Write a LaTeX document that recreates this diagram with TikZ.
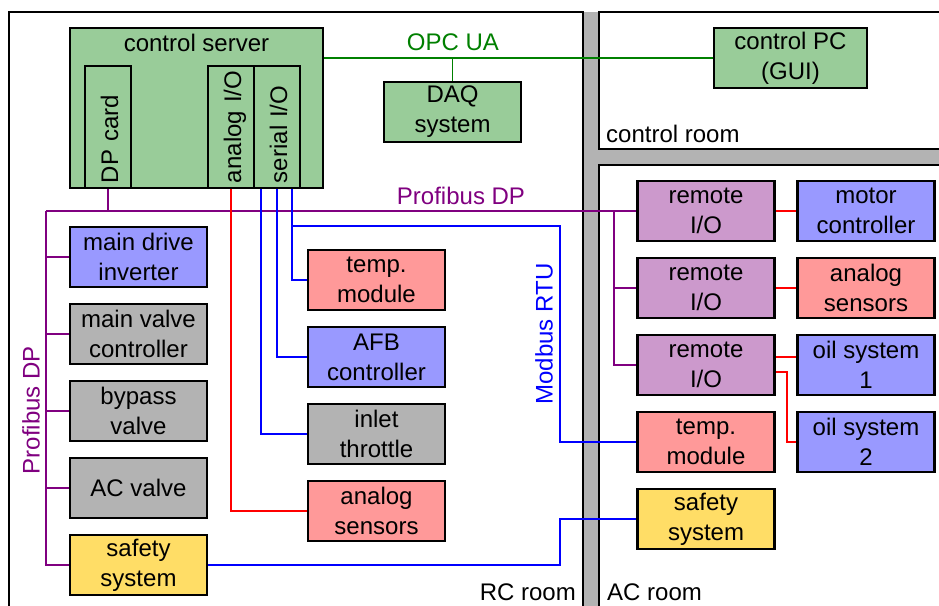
\documentclass[tikz,border=0pt]{standalone}
\usepackage{fontspec,xcolor,tikz}
\setmainfont{Liberation Sans}
\usetikzlibrary{backgrounds}
\definecolor{ink}{HTML}{000000}
\definecolor{pcgreen}{HTML}{99CC99}
\definecolor{drvblue}{HTML}{9999FF}
\definecolor{valvegrey}{HTML}{B3B3B3}
\definecolor{sensred}{HTML}{FF9999}
\definecolor{safeyellow}{HTML}{FFDD66}
\definecolor{rioviolet}{HTML}{CC99CC}
\definecolor{wall}{HTML}{B3B3B3}
\definecolor{opcline}{HTML}{008000}
\definecolor{dpline}{HTML}{800080}
\definecolor{anline}{HTML}{FF0000}
\definecolor{rtuline}{HTML}{0000FF}
\newcommand{\boxtxt}{\fontsize{24}{30}\selectfont}

\begin{document}
\begin{tikzpicture}[x=1pt,y=-1pt,font=\boxtxt,
  box/.style={draw=ink,line width=2.4pt,minimum width=137pt,minimum height=60pt,align=center,inner sep=0pt},
  card/.style={draw=ink,line width=2.4pt,fill=pcgreen,rotate=90,minimum width=121.6pt,minimum height=46pt,
    text width=112pt,inner xsep=4.8pt,align=left,text height=20pt,text depth=0pt},
  lbl/.style={inner sep=0pt},
  wire/.style={line width=1.8pt},
  opc/.style={wire,opcline},
  dp/.style={wire,dpline},
  an/.style={wire,anline},
  rtu/.style={wire,rtuline},
  roomline/.style={ink,line width=1.8pt}]
\useasboundingbox (0,0) rectangle (939,605);

% servers and PCs
\node[box,fill=pcgreen,minimum width=252.6pt,minimum height=159.6pt] (server) at (196.5,108) {};
\node[lbl] (servername) at (196.5,43) {control server};
\node[card] (dpcard) at (108,127) {\mbox{DP card}};
\node[card] (analog) at (231,127) {\mbox{analog I/O}};
\node[card] (serial) at (277,127) {\mbox{serial I/O}};
\node[box,fill=pcgreen] (daq) at (452.5,112) {DAQ\\system};
\node[box,fill=pcgreen,minimum width=152.6pt] (pc) at (790.5,58) {control PC\\(GUI)};

% RC room, Profibus column
\node[box,fill=drvblue] (inverter) at (138.5,257) {main drive\\inverter};
\node[box,fill=valvegrey] (mainvalve) at (138.5,334) {main valve\\controller};
\node[box,fill=valvegrey] (bypass) at (138.5,411) {bypass\\valve};
\node[box,fill=valvegrey] (acvalve) at (138.5,488) {AC valve};
\node[box,fill=safeyellow] (safety1) at (138.5,565) {safety\\system};

% RC room, serial and analog column
\node[box,fill=sensred] (tempmod) at (376.5,280) {temp.\\module};
\node[box,fill=drvblue] (afb) at (376.5,357) {AFB\\controller};
\node[box,fill=valvegrey] (throttle) at (376.5,434) {inlet\\throttle};
\node[box,fill=sensred] (sensors1) at (376.5,511) {analog\\sensors};

% AC room
\node[box,fill=rioviolet] (rio1) at (706,211) {remote\\I/O};
\node[box,fill=rioviolet] (rio2) at (706,288) {remote\\I/O};
\node[box,fill=rioviolet] (rio3) at (706,365) {remote\\I/O};
\node[box,fill=sensred] (temp2) at (706,442) {temp.\\module};
\node[box,fill=safeyellow] (safety2) at (706,519) {safety\\system};
\node[box,fill=drvblue] (motor) at (866,211) {motor\\controller};
\node[box,fill=sensred] (sensors2) at (866,288) {analog\\sensors};
\node[box,fill=drvblue] (oil1) at (866,365) {oil system\\1};
\node[box,fill=drvblue] (oil2) at (866,442) {oil system\\2};

% bus names and rooms
\node[lbl,text=opcline] (opclabel) at (453,42) {OPC UA};
\node[lbl,text=dpline] (dplabel) at (461,196) {Profibus DP};
\node[lbl,text=dpline,rotate=90] (dplabelv) at (31,410) {Profibus DP};
\node[lbl,text=rtuline,rotate=90] (rtulabel) at (544,334) {Modbus RTU};
\node[lbl,anchor=base west] (ctrlroom) at (606,142) {control room};
\node[lbl,anchor=base east] (rcroom) at (576,600) {RC room};
\node[lbl,anchor=base west] (acroom) at (607,600) {AC room};

\coordinate (dpleft) at (46,211);
\coordinate (dpright) at (614,211);
\coordinate (oilbend) at (787,372);
\coordinate (rtuturn) at (560,226);
\coordinate (rtusafe) at (560,519);

\begin{pgfonlayer}{background}
% walls
\fill[wall] (583,12) rectangle (945,612);
\draw[roomline,fill=white] (9,612) -- (9,12) -- (583,12) -- (583,612);
\draw[roomline,fill=white] (599,12) rectangle (945,149);
\draw[roomline,fill=white] (599,165) rectangle (945,612);
% OPC UA
\draw[opc] (server.east |- pc.west) -- (pc.west);
\draw[opc] (daq.north) -- (daq.north |- pc.west);
% Profibus DP
\draw[dp] (dpcard.west) -- (dpcard.west |- dpleft);
\draw[dp] (dpleft) -- (rio1.west);
\draw[dp] (dpleft) |- (safety1.west);
\foreach \n in {inverter,mainvalve,bypass,acvalve}
  \draw[dp] (dpleft |- \n.west) -- (\n.west);
\draw[dp] (dpright) |- (rio3.west);
\draw[dp] (dpright |- rio2.west) -- (rio2.west);
% analog
\draw[an] (analog.west) |- (sensors1.west);
\draw[an] (rio1.east) -- (motor.west);
\draw[an] (rio2.east) -- (sensors2.west);
\draw[an] ([yshift=8pt]rio3.east) -- ([yshift=8pt]oil1.west);
\draw[an] ([yshift=-7pt]rio3.east) -- (oilbend) |- (oil2.west);
% Modbus RTU
\draw[rtu] ([xshift=15pt]serial.west) |- (tempmod.west);
\draw[rtu] ([xshift=15pt]serial.west) |- (rtuturn) |- (temp2.west);
\draw[rtu] (serial.west) |- (afb.west);
\draw[rtu] ([xshift=-16pt]serial.west) |- (throttle.west);
\draw[rtu] (safety1.east) -| (rtusafe) -- (safety2.west);
\end{pgfonlayer}
\end{tikzpicture}
\end{document}
